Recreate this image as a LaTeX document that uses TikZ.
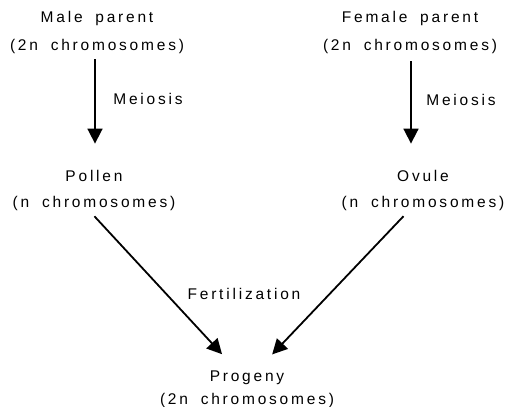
\documentclass[tikz,border=0pt]{standalone}
\usepackage{fontspec}
\setmainfont{Liberation Sans}[LetterSpace=18, WordSpace=1.8]
\usetikzlibrary{arrows.meta}
\tikzset{
  stage/.style={inner sep=0pt, align=center, font=\fontsize{15.5}{26}\selectfont},
  step label/.style={inner sep=0pt, font=\fontsize{15.5}{18}\selectfont},
  arr/.style={line width=1.8pt, -{Triangle[width=15pt,length=15pt]}}
}
\begin{document}
\begin{tikzpicture}[x=1pt,y=-1pt]
  \useasboundingbox (0,0) rectangle (509,407);
  % Parents
  \node[stage, font=\fontsize{15.5}{28}\selectfont] (male) at (97,32) {Male parent\\(2n chromosomes)};
  \node[stage, font=\fontsize{15.5}{28}\selectfont] (female) at (410,32) {Female parent\\(2n chromosomes)};
  % Gametes
  \node[stage] (pollen) at (94,190) {Pollen\\(n chromosomes)};
  \node[stage] (ovule) at (423,190) {Ovule\\(n chromosomes)};
  % Offspring
  \node[stage, font=\fontsize{15.5}{23}\selectfont] (progeny) at (247,389) {Progeny\\(2n chromosomes)};
  % Step labels
  \node[step label] (meiosisL) at (148,99) {Meiosis};
  \node[step label] (meiosisR) at (461,100) {Meiosis};
  \node[step label] (fert) at (244,294) {Fertilization};
  % Arrows
  \draw[arr, shorten <=6pt, shorten >=26pt] ([xshift=-2pt]male.south) -- ([xshift=1pt]pollen.north);
  \draw[arr, shorten <=8pt, shorten >=26pt] ([xshift=1pt]female.south) -- ([xshift=-12pt]ovule.north);
  \draw[arr, shorten <=8pt, shorten >=22pt] ([xshift=-5pt]pollen.south) -- ([xshift=-10pt]progeny.north);
  \draw[arr, shorten <=8pt, shorten >=22pt] ([xshift=-14pt]ovule.south) -- ([xshift=10pt]progeny.north);
\end{tikzpicture}
\end{document}
